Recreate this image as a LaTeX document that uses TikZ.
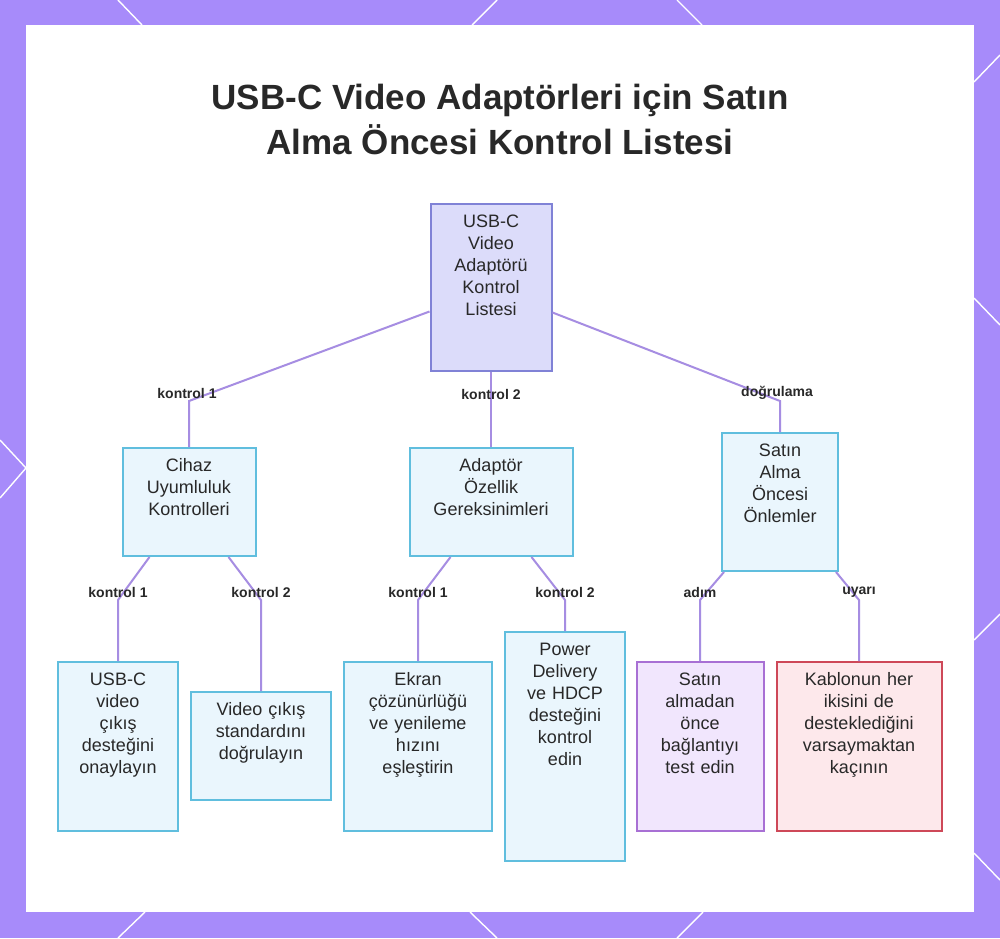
\documentclass[tikz,border=0pt]{standalone}
\usepackage{fontspec}
\setmainfont{Liberation Sans}
\usetikzlibrary{positioning, calc}
\definecolor{frame}{RGB}{167,139,250}
\definecolor{rootfill}{RGB}{220,220,250}
\definecolor{rootline}{RGB}{128,130,214}
\definecolor{bluefill}{RGB}{234,246,253}
\definecolor{blueline}{RGB}{96,190,222}
\definecolor{violetfill}{RGB}{241,230,253}
\definecolor{violetline}{RGB}{168,112,212}
\definecolor{redfill}{RGB}{253,232,235}
\definecolor{redline}{RGB}{206,72,88}
\definecolor{linkcol}{RGB}{166,141,226}
\definecolor{ink}{RGB}{40,40,40}

\begin{document}
\begin{tikzpicture}[
    x=1pt, y=-1pt,
    item/.style={
        rectangle, draw=#1line, fill=#1fill, line width=2pt,
        anchor=north, align=center, inner xsep=2pt, inner ysep=8pt,
        text height=15pt, text=ink,
        font=\fontsize{18}{22}\selectfont
    },
    link/.style={draw=linkcol, line width=2pt},
    edgelabel/.style={font=\fontsize{14}{16}\selectfont\bfseries, text=ink, inner sep=1pt, yshift=8pt},
    deco/.style={draw=white, line width=1.4pt}
]
\useasboundingbox (0,0) rectangle (1000,938);

% frame and panel
\fill[frame] (0,0) rectangle (1000,938);
\draw[deco] (118,0) -- (142,25);
\draw[deco] (497,0) -- (472,25);
\draw[deco] (677,0) -- (702,25);
\draw[deco] (1000,55) -- (974,82);
\draw[deco] (974,298) -- (1000,325);
\draw[deco] (0,440) -- (26,468) -- (0,498);
\draw[deco] (974,640) -- (1000,614);
\draw[deco] (974,853) -- (1000,880);
\draw[deco] (145,912) -- (118,938);
\draw[deco] (470,912) -- (497,938);
\draw[deco] (703,912) -- (677,938);
\fill[white] (26,25) rectangle (974,912);

% title
\node[font=\fontsize{35}{45}\selectfont\bfseries, text=ink, align=center] (title) at (500,119)
    {USB-C Video Adaptörleri için Satın\\Alma Öncesi Kontrol Listesi};

% root
\node[item=root, text width=117pt, text depth=136pt] (root) at (491,203) {USB-C\\Video\\Adaptörü\\Kontrol\\Listesi};

% level 2
\node[item=blue, text width=129pt, text depth=77pt] (cihaz) at (189,447) {Cihaz\\Uyumluluk\\Kontrolleri};
\node[item=blue, text width=159pt, text depth=77pt] (adaptor) at (491,447) {Adaptör\\Özellik\\Gereksinimleri};
\node[item=blue, text width=112pt, text depth=107pt] (onlem) at (780,432) {Satın\\Alma\\Öncesi\\Önlemler};

% level 3
\node[item=blue, text width=116pt, text depth=138pt] (usbc) at (118,661) {USB-C\\video\\çıkış\\desteğini\\onaylayın};
\node[item=blue, text width=136pt, text depth=77pt] (standart) at (261,691) {Video çıkış\\standardını\\doğrulayın};
\node[item=blue, text width=144pt, text depth=138pt] (ekran) at (418,661) {Ekran\\çözünürlüğü\\ve yenileme\\hızını\\eşleştirin};
\node[item=blue, text width=116pt, text depth=198pt] (power) at (565,631) {Power\\Delivery\\ve HDCP\\desteğini\\kontrol\\edin};
\node[item=violet, text width=123pt, text depth=138pt] (test) at (700,661) {Satın\\almadan\\önce\\bağlantıyı\\test edin};
\node[item=red, text width=161pt, text depth=138pt] (varsayim) at (859,661) {Kablonun her\\ikisini de\\desteklediğini\\varsaymaktan\\kaçının};

% root links
\draw[link] (cihaz.north) -- ++(0,-46) node[edgelabel, xshift=-2pt] {kontrol 1} -- ([yshift=-24pt]root.west);
\draw[link] (root) -- (adaptor) node[edgelabel, pos=0.4] {kontrol 2};
\draw[link] (onlem.north) -- ++(0,-31) node[edgelabel, xshift=-3pt] {doğrulama} -- ([yshift=-25pt]root.east);

% level 3 links
\draw[link] (usbc.north) -- ++(0,-61) node[edgelabel] {kontrol 1} -- ([xshift=28pt]cihaz.south west);
\draw[link] (standart.north) -- ++(0,-91) node[edgelabel] {kontrol 2} -- ([xshift=-28pt]cihaz.south east);
\draw[link] (ekran.north) -- ++(0,-61) node[edgelabel] {kontrol 1} -- ([xshift=42pt]adaptor.south west);
\draw[link] (power.north) -- ++(0,-31) node[edgelabel] {kontrol 2} -- ([xshift=-42pt]adaptor.south east);
\draw[link] (test.north) -- ++(0,-61) node[edgelabel] {adım} -- ([xshift=3pt]onlem.south west);
\draw[link] (varsayim.north) -- ++(0,-61) node[edgelabel] {uyarı} -- ([xshift=-3pt]onlem.south east);

\end{tikzpicture}
\end{document}
